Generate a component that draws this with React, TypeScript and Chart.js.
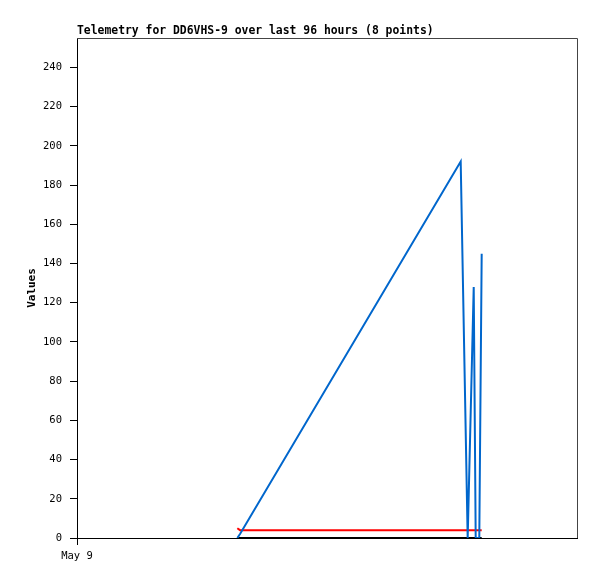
import React, { useEffect, useRef } from "react";
import { Chart, registerables } from "chart.js";

Chart.register(...registerables);

// hours since May 9 00:00 (96-hour window)
const times = [30.78, 31.3, 73.67, 75.01, 76.17, 76.55, 77.24, 77.7];
const blueValues = [0, 2, 192, 0, 128, 0, 0, 145];
const redValues = [5, 4, 4, 4, 4, 4, 4, 4];
const blackValues = [0, 0, 0, 0, 0, 0, 0, 0];
const yTickValues = [0, 20, 40, 60, 80, 100, 120, 140, 160, 180, 200, 220, 240];
const xTickValues = [0];
const xTickLabels = ["May 9"];
const titleText = "Telemetry for DD6VHS-9 over last 96 hours (8 points)";
const yAxisLabel = "Values";

const framePlugin = {
  id: "frameAndTitle",
  afterDraw(chart: any) {
    const { ctx, chartArea: a } = chart;
    ctx.save();
    ctx.strokeStyle = "#444444";
    ctx.lineWidth = 1;
    ctx.beginPath();
    ctx.moveTo(a.left, Math.round(a.top) + 0.5);
    ctx.lineTo(Math.round(a.right) + 0.5, Math.round(a.top) + 0.5);
    ctx.lineTo(Math.round(a.right) + 0.5, a.bottom);
    ctx.stroke();
    ctx.fillStyle = "#000";
    ctx.font = "bold 11.4px 'DejaVu Sans Mono'";
    ctx.textBaseline = "middle";
    ctx.textAlign = "left";
    ctx.fillText(titleText, a.left, 31);
    ctx.font = "bold 11px 'DejaVu Sans Mono'";
    ctx.translate(32, (a.top + a.bottom) / 2);
    ctx.rotate(-Math.PI / 2);
    ctx.textAlign = "center";
    ctx.fillText(yAxisLabel, 0, 0);
    ctx.restore();
  },
};

export default function App() {
  const ref = useRef<HTMLCanvasElement | null>(null);
  useEffect(() => {
    if (!ref.current) return;
    const mk = (vals: number[]) => times.map((t, i) => ({ x: t, y: vals[i] }));
    const chart = new Chart(ref.current, {
      type: "line",
      data: {
        datasets: [
          { data: mk(blueValues), borderColor: "#0066cc", borderWidth: 2, pointRadius: 0, tension: 0, fill: false },
          { data: mk(redValues), borderColor: "#ff0000", borderWidth: 2, pointRadius: 0, tension: 0, fill: false },
          { data: mk(blackValues), borderColor: "#000000", borderWidth: 2, pointRadius: 0, tension: 0, fill: false },
        ],
      },
      options: {
        responsive: false,
        animation: false,
        layout: { padding: { top: 38, right: 20, left: 0, bottom: 0 } },
        plugins: { legend: { display: false }, tooltip: { enabled: false }, title: { display: false } },
        scales: {
          x: {
            type: "linear",
            min: 0,
            max: 96,
            afterBuildTicks: (s: any) => {
              s.ticks = xTickValues.map((v) => ({ value: v }));
            },
            afterFit: (s: any) => {
              s.height = 41;
            },
            ticks: {
              callback: (v: any) => {
                const i = xTickValues.indexOf(Number(v));
                return i >= 0 ? xTickLabels[i] : null;
              },
              color: "#000",
              font: { family: "'DejaVu Sans Mono'", size: 10.5 },
              padding: 5,
              maxRotation: 0,
            },
            grid: { drawOnChartArea: false, drawTicks: true, tickLength: 7, color: "#000" },
            border: { color: "#000", width: 1 },
          },
          y: {
            type: "linear",
            min: 0,
            max: 255,
            afterBuildTicks: (s: any) => {
              s.ticks = yTickValues.map((v) => ({ value: v }));
            },
            afterFit: (s: any) => {
              s.width = 77;
            },
            ticks: {
              color: "#000",
              font: { family: "'DejaVu Sans Mono'", size: 10.5 },
              padding: 8,
            },
            grid: { drawOnChartArea: false, drawTicks: true, tickLength: 7, color: "#000" },
            border: { color: "#000", width: 1 },
          },
        },
      },
      plugins: [framePlugin],
    });
    return () => chart.destroy();
  }, []);
  return (
    <canvas
      ref={ref}
      width={597}
      height={579}
      style={{ position: "fixed", left: 0, top: 0, width: 597, height: 579, display: "block", background: "#fff" }}
    />
  );
}
